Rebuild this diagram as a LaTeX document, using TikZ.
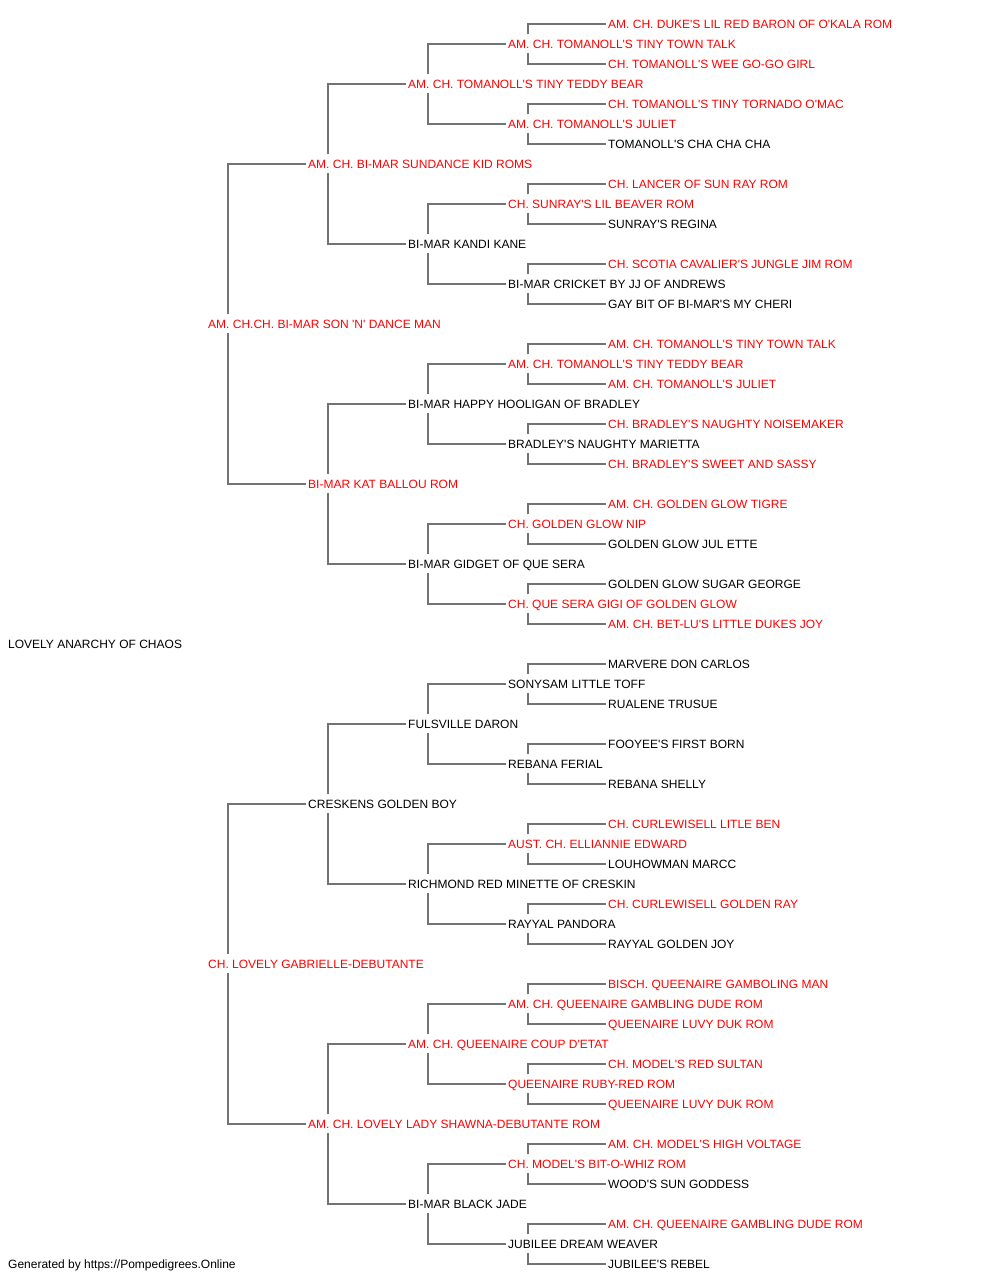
\documentclass[tikz,border=0pt]{standalone}
\usepackage{fontspec}
\setmainfont{Liberation Sans}
\usetikzlibrary{backgrounds}
\definecolor{pedred}{RGB}{255,0,0}
\definecolor{pedline}{RGB}{115,115,115}
\newcommand\qq{\textquotesingle}
\tikzset{
  ped/.style={anchor=west, inner xsep=2pt, inner ysep=5.3pt, text height=8.6pt, text depth=0pt, fill=white, font=\fontsize{12}{14}\selectfont},
  rd/.style={ped, text=pedred},
  bk/.style={ped, text=black},
  conn/.style={draw=pedline, line width=1.6pt}
}
\begin{document}
\begin{tikzpicture}[x=1pt,y=-1pt]
\useasboundingbox (0,0) rectangle (1000,1280);
% root
\node[bk] (n1) at (6,643.7) {LOVELY ANARCHY OF CHAOS};
% generation 1
\node[rd] (n2) at (206,323.7) {AM. CH.CH. BI-MAR SON \qq N\qq{} DANCE MAN};
\node[rd] (n3) at (206,963.7) {CH. LOVELY GABRIELLE-DEBUTANTE};
% generation 2
\node[rd] (n4) at (306,163.7) {AM. CH. BI-MAR SUNDANCE KID ROMS};
\node[rd] (n5) at (306,483.7) {BI-MAR KAT BALLOU ROM};
\node[bk] (n6) at (306,803.7) {CRESKENS GOLDEN BOY};
\node[rd] (n7) at (306,1123.7) {AM. CH. LOVELY LADY SHAWNA-DEBUTANTE ROM};
% generation 3
\node[rd] (n8) at (406,83.7) {AM. CH. TOMANOLL\qq S TINY TEDDY BEAR};
\node[bk] (n9) at (406,243.7) {BI-MAR KANDI KANE};
\node[bk] (n10) at (406,403.7) {BI-MAR HAPPY HOOLIGAN OF BRADLEY};
\node[bk] (n11) at (406,563.7) {BI-MAR GIDGET OF QUE SERA};
\node[bk] (n12) at (406,723.7) {FULSVILLE DARON};
\node[bk] (n13) at (406,883.7) {RICHMOND RED MINETTE OF CRESKIN};
\node[rd] (n14) at (406,1043.7) {AM. CH. QUEENAIRE COUP D\qq ETAT};
\node[bk] (n15) at (406,1203.7) {BI-MAR BLACK JADE};
% generation 4
\node[rd] (n16) at (506,43.7) {AM. CH. TOMANOLL\qq S TINY TOWN TALK};
\node[rd] (n17) at (506,123.7) {AM. CH. TOMANOLL\qq S JULIET};
\node[rd] (n18) at (506,203.7) {CH. SUNRAY\qq S LIL BEAVER ROM};
\node[bk] (n19) at (506,283.7) {BI-MAR CRICKET BY JJ OF ANDREWS};
\node[rd] (n20) at (506,363.7) {AM. CH. TOMANOLL\qq S TINY TEDDY BEAR};
\node[bk] (n21) at (506,443.7) {BRADLEY\qq S NAUGHTY MARIETTA};
\node[rd] (n22) at (506,523.7) {CH. GOLDEN GLOW NIP};
\node[rd] (n23) at (506,603.7) {CH. QUE SERA GIGI OF GOLDEN GLOW};
\node[bk] (n24) at (506,683.7) {SONYSAM LITTLE TOFF};
\node[bk] (n25) at (506,763.7) {REBANA FERIAL};
\node[rd] (n26) at (506,843.7) {AUST. CH. ELLIANNIE EDWARD};
\node[bk] (n27) at (506,923.7) {RAYYAL PANDORA};
\node[rd] (n28) at (506,1003.7) {AM. CH. QUEENAIRE GAMBLING DUDE ROM};
\node[rd] (n29) at (506,1083.7) {QUEENAIRE RUBY-RED ROM};
\node[rd] (n30) at (506,1163.7) {CH. MODEL\qq S BIT-O-WHIZ ROM};
\node[bk] (n31) at (506,1243.7) {JUBILEE DREAM WEAVER};
% generation 5
\node[rd] (n32) at (606,23.7) {AM. CH. DUKE\qq S LIL RED BARON OF O\qq KALA ROM};
\node[rd] (n33) at (606,63.7) {CH. TOMANOLL\qq S WEE GO-GO GIRL};
\node[rd] (n34) at (606,103.7) {CH. TOMANOLL\qq S TINY TORNADO O\qq MAC};
\node[bk] (n35) at (606,143.7) {TOMANOLL\qq S CHA CHA CHA};
\node[rd] (n36) at (606,183.7) {CH. LANCER OF SUN RAY ROM};
\node[bk] (n37) at (606,223.7) {SUNRAY\qq S REGINA};
\node[rd] (n38) at (606,263.7) {CH. SCOTIA CAVALIER\qq S JUNGLE JIM ROM};
\node[bk] (n39) at (606,303.7) {GAY BIT OF BI-MAR\qq S MY CHERI};
\node[rd] (n40) at (606,343.7) {AM. CH. TOMANOLL\qq S TINY TOWN TALK};
\node[rd] (n41) at (606,383.7) {AM. CH. TOMANOLL\qq S JULIET};
\node[rd] (n42) at (606,423.7) {CH. BRADLEY\qq S NAUGHTY NOISEMAKER};
\node[rd] (n43) at (606,463.7) {CH. BRADLEY\qq S SWEET AND SASSY};
\node[rd] (n44) at (606,503.7) {AM. CH. GOLDEN GLOW TIGRE};
\node[bk] (n45) at (606,543.7) {GOLDEN GLOW JUL ETTE};
\node[bk] (n46) at (606,583.7) {GOLDEN GLOW SUGAR GEORGE};
\node[rd] (n47) at (606,623.7) {AM. CH. BET-LU\qq S LITTLE DUKES JOY};
\node[bk] (n48) at (606,663.7) {MARVERE DON CARLOS};
\node[bk] (n49) at (606,703.7) {RUALENE TRUSUE};
\node[bk] (n50) at (606,743.7) {FOOYEE\qq S FIRST BORN};
\node[bk] (n51) at (606,783.7) {REBANA SHELLY};
\node[rd] (n52) at (606,823.7) {CH. CURLEWISELL LITLE BEN};
\node[bk] (n53) at (606,863.7) {LOUHOWMAN MARCC};
\node[rd] (n54) at (606,903.7) {CH. CURLEWISELL GOLDEN RAY};
\node[bk] (n55) at (606,943.7) {RAYYAL GOLDEN JOY};
\node[rd] (n56) at (606,983.7) {BISCH. QUEENAIRE GAMBOLING MAN};
\node[rd] (n57) at (606,1023.7) {QUEENAIRE LUVY DUK ROM};
\node[rd] (n58) at (606,1063.7) {CH. MODEL\qq S RED SULTAN};
\node[rd] (n59) at (606,1103.7) {QUEENAIRE LUVY DUK ROM};
\node[rd] (n60) at (606,1143.7) {AM. CH. MODEL\qq S HIGH VOLTAGE};
\node[bk] (n61) at (606,1183.7) {WOOD\qq S SUN GODDESS};
\node[rd] (n62) at (606,1223.7) {AM. CH. QUEENAIRE GAMBLING DUDE ROM};
\node[bk] (n63) at (606,1263.7) {JUBILEE\qq S REBEL};
% footer
\node[bk] (foot) at (6,1263.7) {Generated by https://Pompedigrees.Online};
% connectors
\begin{scope}[on background layer]
\foreach \i in {4,...,63}{
  \pgfmathtruncatemacro{\p}{floor(\i/2)}
  \draw[conn] (n\i.west) -| ([xshift=22pt]n\p.west);
}
\end{scope}
\end{tikzpicture}
\end{document}
